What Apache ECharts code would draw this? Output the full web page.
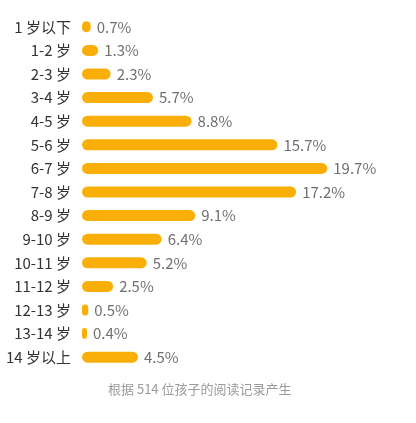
<!DOCTYPE html>
<html>
<head>
<meta charset="utf-8">
<script src="https://cdn.jsdelivr.net/npm/echarts@6/dist/echarts.min.js"></script>
<style>
  html, body { margin: 0; padding: 0; background: #fff; }
  #chart { width: 416px; height: 423px; }
</style>
</head>
<body>
<div id="chart"></div>
<script>
var ageGroups = ['1岁以下', '1-2岁', '2-3岁', '3-4岁', '4-5岁', '5-6岁', '6-7岁', '7-8岁',
  '8-9岁', '9-10岁', '10-11岁', '11-12岁', '12-13岁', '13-14岁', '14岁以上'];
var percents = [0.7, 1.3, 2.3, 5.7, 8.8, 15.7, 19.7, 17.2, 9.1, 6.4, 5.2, 2.5, 0.5, 0.4, 4.5];
var footNote = '根据 514 位孩子的阅读记录产生';

var chart = echarts.init(document.getElementById('chart'));

// the reference puts a space between the number and 岁 for most labels
function fmtAge(name) {
  return name.replace(/(\d)岁/, '$1 岁');
}

var option = {
  animation: false,
  textStyle: { fontFamily: '"Noto Sans CJK SC", "Noto Sans", sans-serif' },
  grid: { left: 82, right: 85, top: 15, bottom: 54 },
  xAxis: {
    type: 'value',
    min: 0,
    max: 20,
    show: false
  },
  yAxis: {
    type: 'category',
    inverse: true,
    data: ageGroups,
    axisLine: { show: false },
    axisTick: { show: false },
    axisLabel: {
      margin: 11,
      color: '#333',
      fontSize: 15,
      formatter: fmtAge
    }
  },
  series: [{
    type: 'bar',
    data: percents,
    barWidth: 11,
    itemStyle: { color: '#FAAF08', borderRadius: 6 },
    label: {
      show: true,
      position: 'right',
      distance: 6,
      color: '#707070',
      fontSize: 15,
      formatter: function (p) { return p.value + '%'; }
    }
  }],
  graphic: [{
    type: 'text',
    left: 108,
    top: 383,
    style: {
      text: footNote,
      fill: '#9a9a9a',
      fontSize: 13,
      fontFamily: '"Noto Sans CJK SC", sans-serif'
    }
  }]
};
chart.setOption(option);

window.addEventListener('resize', function () {
  chart.resize();
});
</script>
</body>
</html>
